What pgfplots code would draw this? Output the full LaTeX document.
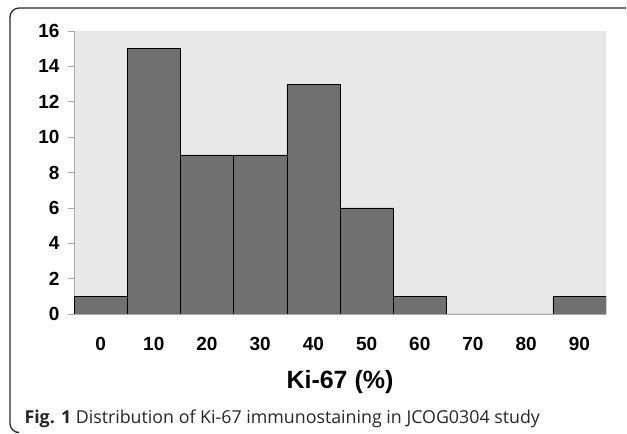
\documentclass[border=0pt]{standalone}
\usepackage{pgfplots}
\pgfplotsset{compat=1.18}
\usepackage{fontspec}
\setmainfont{Liberation Sans}
\newfontfamily\capfont{Open Sans}
\definecolor{plotbg}{RGB}{232,232,232}
\definecolor{barfill}{RGB}{112,112,112}
\definecolor{framecol}{RGB}{40,40,40}
\definecolor{axisgray}{RGB}{170,170,170}
\begin{document}
\begin{tikzpicture}[x=1pt,y=1pt]
\useasboundingbox (0,0) rectangle (627,434);
% open frame round the figure
\draw[framecol, line width=1.3pt, rounded corners=9pt] (626,426) -- (10,426) -- (10,1.5) -- (16,1.5);
\begin{axis}[
  at={(74pt,120pt)}, anchor=south west,
  scale only axis, width=532pt, height=283pt,
  xmin=-0.5, xmax=9.5, ymin=0, ymax=16,
  axis background/.style={fill=plotbg},
  axis lines*=left,
  axis line style={axisgray, line width=0.6pt},
  xtick={0,...,9}, xticklabels={0,10,20,30,40,50,60,70,80,90},
  ytick={0,2,...,16},
  xtick style={draw=none},
  ytick style={axisgray, line width=0.6pt},
  tick align=outside, major tick length=6pt,
  /pgf/number format/assume math mode=true,
  ticklabel style={font=\fontsize{19}{19}\selectfont\bfseries},
  yticklabel style={xshift=-5pt},
  xticklabel style={yshift=-14pt},
  xlabel={Ki-67 (\%)},
  xlabel style={at={(axis description cs:0.5,0)}, anchor=center, yshift=-68pt,
    font=\fontsize{25}{25}\selectfont\bfseries},
  ybar, bar width=1, bar shift=0pt,
]
\addplot[draw=black, line width=0.6pt, fill=barfill] coordinates {
  (0,1) (1,15) (2,9) (3,9) (4,13) (5,6) (6,1) (9,1)
};
\addplot[draw=none, fill=barfill] coordinates {(7,0) (8,0)};
\end{axis}
\node[anchor=base west, font=\capfont\fontsize{17.8}{17.8}\selectfont, text=black!85] at (21,10)
  {\textbf{Fig. 1} Distribution of Ki-67 immunostaining in JCOG0304 study};
\end{tikzpicture}
\end{document}
